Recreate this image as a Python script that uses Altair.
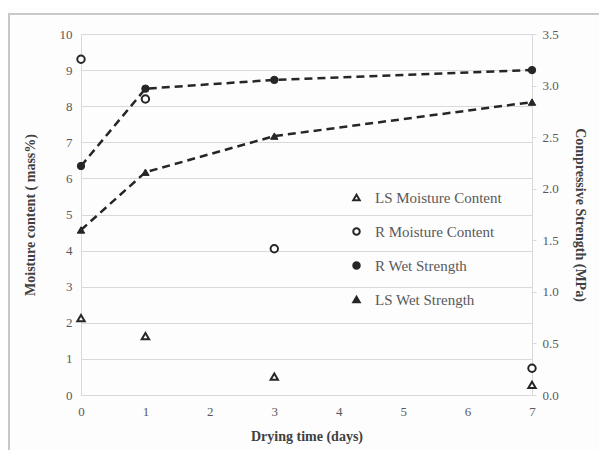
import altair as alt
import pandas as pd

days = [0, 1, 3, 7]
r_moisture = [9.3, 8.2, 4.05, 0.74]
ls_moisture = [2.13, 1.63, 0.51, 0.28]
r_wet = [2.22, 2.97, 3.055, 3.15]
ls_wet = [1.6, 2.16, 2.51, 2.84]

series_order = ["LS Moisture Content", "R Moisture Content", "R Wet Strength", "LS Wet Strength"]
x_ticks = [0, 1, 2, 3, 4, 5, 6, 7]
left_ticks = [0, 1, 2, 3, 4, 5, 6, 7, 8, 9, 10]
right_ticks = [0, 0.5, 1.0, 1.5, 2.0, 2.5, 3.0, 3.5]

moist = pd.DataFrame({
    "day": days * 2,
    "value": ls_moisture + r_moisture,
    "series": ["LS Moisture Content"] * 4 + ["R Moisture Content"] * 4,
})
wet = pd.DataFrame({
    "day": days * 2,
    "value": r_wet + ls_wet,
    "series": ["R Wet Strength"] * 4 + ["LS Wet Strength"] * 4,
})

FONT = "Liberation Serif"
DARK = "#262626"
GRID = "#d9d9d9"
LABEL = "#595959"
TITLE = "#404040"

shape_scale = alt.Scale(domain=series_order,
                        range=["triangle-up", "circle", "circle", "triangle-up"])
fill_scale = alt.Scale(domain=series_order,
                       range=["white", "white", DARK, DARK])
stroke_scale = alt.Scale(domain=series_order, range=[DARK, DARK, DARK, DARK])
legend = alt.Legend(
    title=None, orient="none", legendX=268, legendY=156,
    labelFont=FONT, labelFontSize=15, labelColor=LABEL,
    symbolSize=42, symbolStrokeWidth=2,
    rowPadding=18, labelOffset=11,
)

x_enc = alt.X("day:Q", scale=alt.Scale(domain=[0, 7], nice=False),
              axis=alt.Axis(values=x_ticks, format="d", title="Drying time (days)", grid=False,
                            ticks=False, domainColor=GRID, labelPadding=10, labelFlush=False,
                            titlePadding=11, labelFont=FONT, labelFontSize=13,
                            labelColor=LABEL, titleFont=FONT, titleFontSize=14,
                            titleFontWeight="bold", titleColor=TITLE))

left_axis = alt.Axis(values=left_ticks, format="d", title="Moisture content ( mass%)", grid=True,
                     gridColor=GRID, ticks=False, domainColor=GRID, labelPadding=9,
                     titlePadding=22, labelFont=FONT, labelFontSize=13, labelColor=LABEL,
                     titleFont=FONT, titleFontSize=14, titleFontWeight="bold", titleColor=TITLE)
right_axis = alt.Axis(values=right_ticks, format=".1f", title="Compressive Strength (MPa)",
                      grid=False, ticks=True, tickSize=4, tickColor=GRID, domainColor=GRID,
                      labelPadding=6, titlePadding=14, orient="right",
                      labelFont=FONT, labelFontSize=13, labelColor=LABEL,
                      titleFont=FONT, titleFontSize=14, titleFontWeight="bold", titleColor=TITLE)

shape_enc = alt.Shape("series:N", scale=shape_scale, legend=legend)
fill_enc = alt.Fill("series:N", scale=fill_scale, legend=legend)
stroke_enc = alt.Stroke("series:N", scale=stroke_scale, legend=legend)

moist_pts = alt.Chart(moist).mark_point(filled=True, strokeWidth=2, size=55, opacity=1).encode(
    x=x_enc,
    y=alt.Y("value:Q", scale=alt.Scale(domain=[0, 10], nice=False), axis=left_axis),
    shape=shape_enc, fill=fill_enc, stroke=stroke_enc,
)

y_right = alt.Y("value:Q", scale=alt.Scale(domain=[0, 3.5], nice=False), axis=right_axis)
wet_line = alt.Chart(wet).mark_line(color=DARK, strokeWidth=2.5, strokeDash=[8, 5]).encode(
    x=x_enc, y=y_right, detail="series:N",
)
wet_pts = alt.Chart(wet).mark_point(filled=True, strokeWidth=1, size=55, opacity=1).encode(
    x=x_enc, y=y_right,
    shape=shape_enc, fill=fill_enc, stroke=stroke_enc,
)
right = alt.layer(wet_line, wet_pts)

frame = alt.Chart(pd.DataFrame({"a": [0]})).mark_rect(
    filled=False, stroke="#c8c8c8", strokeWidth=2
).encode(x=alt.value(-72), x2=alt.value(540), y=alt.value(-20), y2=alt.value(440))

chart = alt.layer(frame, moist_pts, right).resolve_scale(y="independent").properties(
    width=451, height=361,
    autosize=alt.AutoSizeParams(type="none"),
    padding={"left": 73, "top": 26, "right": 67, "bottom": 55},
    background="#fdfdfd",
).configure_view(stroke=None)

chart.save("out.html", embed_options={"renderer": "svg", "actions": False})
